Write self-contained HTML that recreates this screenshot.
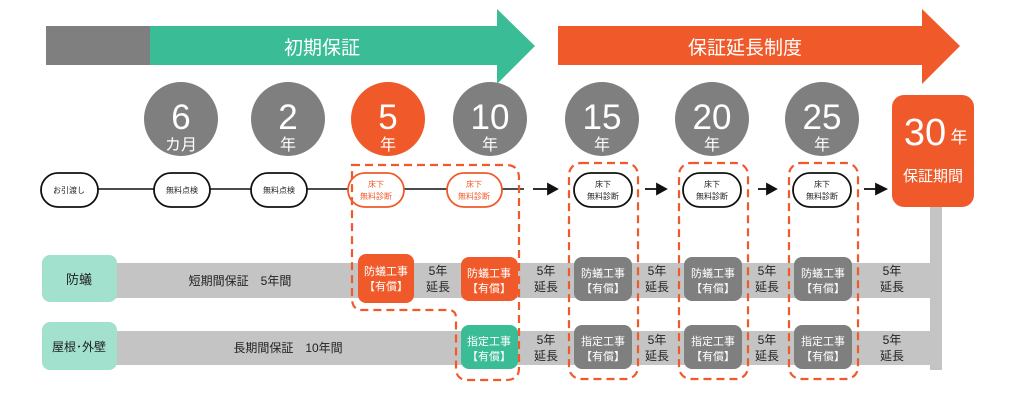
<!DOCTYPE html>
<html><head><meta charset="utf-8"><style>
html,body{margin:0;padding:0;background:#fff;width:1024px;height:410px;overflow:hidden}
body{font-family:"Liberation Sans","Noto Sans CJK JP",sans-serif}
svg text{font-family:"Liberation Sans","Noto Sans CJK JP",sans-serif}
</style></head><body>
<svg width="1024" height="410" viewBox="0 0 1024 410" xmlns="http://www.w3.org/2000/svg">
<rect x="46" y="26" width="104" height="39" fill="#7f7f7f"/>
<polygon points="150,26 497,26 497,9 535,46 497,84 497,65 150,65" fill="#3abd96"/>
<text x="322" y="54" font-size="19" fill="#fff" text-anchor="middle">初期保証</text>
<polygon points="558,26 922,26 922,9 960,46 922,84 922,65 558,65" fill="#f05a2a"/>
<text x="745" y="54" font-size="19" fill="#fff" text-anchor="middle">保証延長制度</text>

<g font-size="35" text-anchor="middle" fill="#fff">
<circle cx="181" cy="119" r="37" fill="#7f7f7f"/><text x="181" y="129">6</text>
<circle cx="288" cy="119" r="37" fill="#7f7f7f"/><text x="288" y="129">2</text>
<circle cx="388" cy="119" r="37" fill="#f05a2a"/><text x="388" y="129">5</text>
<circle cx="490" cy="119" r="37" fill="#7f7f7f"/><text x="490" y="129">10</text>
<circle cx="602" cy="119" r="37" fill="#7f7f7f"/><text x="602" y="129">15</text>
<circle cx="712" cy="119" r="37" fill="#7f7f7f"/><text x="712" y="129">20</text>
<circle cx="822" cy="119" r="37" fill="#7f7f7f"/><text x="822" y="129">25</text>
</g>
<g font-size="16" text-anchor="middle" fill="#fff">
<text x="181" y="150">カ月</text><text x="288" y="150">年</text><text x="388" y="150">年</text>
<text x="490" y="150">年</text><text x="602" y="150">年</text><text x="712" y="150">年</text><text x="822" y="150">年</text>
</g>

<rect x="930" y="200" width="12" height="170" fill="#c4c4c4"/>
<rect x="892" y="95" width="82" height="112" rx="12" fill="#f05a2a"/>
<text x="925" y="145" font-size="38" fill="#fff" text-anchor="middle">30</text>
<text x="959" y="143" font-size="17" fill="#fff" text-anchor="middle">年</text>
<text x="933" y="181" font-size="15" fill="#fff" text-anchor="middle">保証期間</text>

<line x1="98" y1="189" x2="524" y2="189" stroke="#111" stroke-width="1.6"/>
<g stroke="#111" stroke-width="1.8" fill="#111">
<line x1="533" y1="189" x2="550" y2="189"/><polygon points="548,184 557,189 548,194"/>
<line x1="645" y1="189" x2="659" y2="189"/><polygon points="657,184 666,189 657,194"/>
<line x1="758" y1="189" x2="769" y2="189"/><polygon points="767,184 776,189 767,194"/>
<line x1="864" y1="189" x2="878" y2="189"/><polygon points="876,184 886,189 876,194"/>
</g>
<g fill="#fff" stroke="#111" stroke-width="1.8">
<rect x="41" y="173" width="57" height="34" rx="17"/>
<rect x="154" y="173" width="56" height="34" rx="17"/>
<rect x="251" y="173" width="56" height="34" rx="17"/>
<rect x="574" y="173" width="58" height="34" rx="17"/>
<rect x="683" y="173" width="58" height="34" rx="17"/>
<rect x="793" y="173" width="58" height="34" rx="17"/>
</g>
<g fill="#fff" stroke="#f05a2a" stroke-width="1.8">
<rect x="348" y="173" width="56" height="34" rx="17"/>
<rect x="447" y="173" width="55" height="34" rx="17"/>
</g>
<g font-size="8" text-anchor="middle" fill="#222">
<text x="69" y="193">お引渡し</text>
<text x="182" y="193">無料点検</text>
<text x="279" y="193">無料点検</text>
<text x="603" y="187">床下</text><text x="603" y="199">無料診断</text>
<text x="712" y="187">床下</text><text x="712" y="199">無料診断</text>
<text x="822" y="187">床下</text><text x="822" y="199">無料診断</text>
</g>
<g font-size="8" text-anchor="middle" fill="#f05a2a">
<text x="376" y="187">床下</text><text x="376" y="199">無料診断</text>
<text x="474" y="187">床下</text><text x="474" y="199">無料診断</text>
</g>

<rect x="110" y="263" width="822" height="35" fill="#c4c4c4"/>
<rect x="110" y="331" width="822" height="34" fill="#c4c4c4"/>
<rect x="42" y="255" width="75" height="47" rx="8" fill="#a1e1cd"/>
<rect x="42" y="322" width="75" height="48" rx="8" fill="#a1e1cd"/>
<text x="79" y="284" font-size="13" fill="#222" text-anchor="middle">防蟻</text>
<text x="79" y="351" font-size="12" fill="#222" text-anchor="middle">屋根･外壁</text>
<text x="240" y="285" font-size="12" fill="#222" text-anchor="middle">短期間保証　5年間</text>
<text x="288" y="352" font-size="12" fill="#222" text-anchor="middle">長期間保証　10年間</text>

<g>
<rect x="358" y="254" width="56" height="49" rx="8" fill="#f05a2a"/>
<rect x="461" y="257" width="57" height="44" rx="8" fill="#f05a2a"/>
<rect x="574" y="257" width="58" height="44" rx="8" fill="#7f7f7f"/>
<rect x="684" y="257" width="58" height="44" rx="8" fill="#7f7f7f"/>
<rect x="794" y="257" width="58" height="44" rx="8" fill="#7f7f7f"/>
<rect x="461" y="325" width="57" height="44" rx="8" fill="#3abd96"/>
<rect x="574" y="325" width="58" height="44" rx="8" fill="#7f7f7f"/>
<rect x="684" y="325" width="58" height="44" rx="8" fill="#7f7f7f"/>
<rect x="794" y="325" width="58" height="44" rx="8" fill="#7f7f7f"/>
</g>
<g font-size="11" text-anchor="middle" fill="#fff">
<text x="386" y="275">防蟻工事</text><text x="386" y="290">【有償】</text>
<text x="489" y="277">防蟻工事</text><text x="489" y="292">【有償】</text>
<text x="603" y="277">防蟻工事</text><text x="603" y="292">【有償】</text>
<text x="713" y="277">防蟻工事</text><text x="713" y="292">【有償】</text>
<text x="823" y="277">防蟻工事</text><text x="823" y="292">【有償】</text>
<text x="489" y="345">指定工事</text><text x="489" y="360">【有償】</text>
<text x="603" y="345">指定工事</text><text x="603" y="360">【有償】</text>
<text x="713" y="345">指定工事</text><text x="713" y="360">【有償】</text>
<text x="823" y="345">指定工事</text><text x="823" y="360">【有償】</text>
</g>
<g font-size="12" text-anchor="middle" fill="#222">
<text x="438" y="275">5年</text><text x="438" y="291">延長</text>
<text x="546" y="275">5年</text><text x="546" y="291">延長</text>
<text x="657" y="275">5年</text><text x="657" y="291">延長</text>
<text x="767" y="275">5年</text><text x="767" y="291">延長</text>
<text x="892" y="275">5年</text><text x="892" y="291">延長</text>
<text x="546" y="344">5年</text><text x="546" y="360">延長</text>
<text x="657" y="344">5年</text><text x="657" y="360">延長</text>
<text x="767" y="344">5年</text><text x="767" y="360">延長</text>
<text x="892" y="344">5年</text><text x="892" y="360">延長</text>
</g>

<g fill="none" stroke="#f05a2a" stroke-width="2.2" stroke-dasharray="8,5">
<path d="M352,165 H506 Q519,165 519,178 V368 Q519,380 506,380 H468 Q456,380 456,368 V318 Q456,310 448,310 H362 Q352,310 352,298 Z"/>
<rect x="569" y="163" width="69" height="216" rx="12"/>
<rect x="679" y="163" width="69" height="216" rx="12"/>
<rect x="789" y="163" width="69" height="216" rx="12"/>
</g>
</svg>
</body></html>
